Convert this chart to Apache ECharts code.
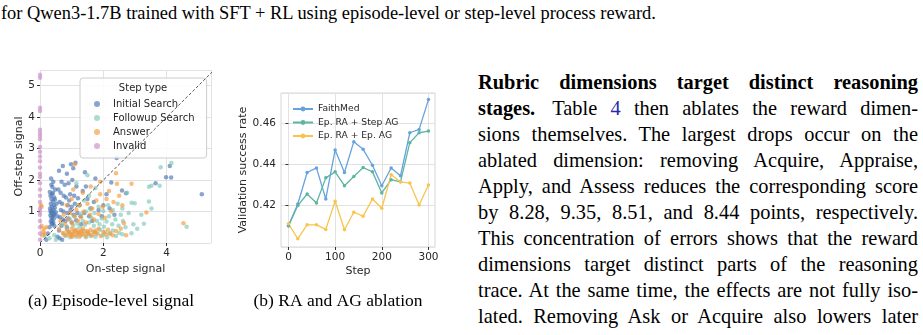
<!DOCTYPE html>
<html>
<head>
<meta charset="utf-8">
<script src="https://cdn.jsdelivr.net/npm/echarts@6/dist/echarts.min.js"></script>
<style>
  html, body { margin: 0; padding: 0; background: #fff; }
  #page { position: relative; width: 923px; height: 335px; overflow: hidden; font-family: 'Liberation Serif', 'Times New Roman', serif; color: #000; }
  #chart { position: absolute; left: 0; top: 0; width: 460px; height: 335px; }
  .top { position: absolute; left: 1px; top: 2px; font-size: 18.4px; line-height: 22px; white-space: nowrap; }
  .ln { position: absolute; left: 478px; width: 440px; font-size: 20.4px; line-height: 22px; height: 22px; white-space: nowrap; }
  .ref { color: #2a2aa8; }
</style>
</head>
<body>
<div id="page">
  <div class="top">for Qwen3-1.7B trained with SFT + RL using episode-level or step-level process reward.</div>
  <div id="chart"></div>
  <div id="para"></div>
</div>
<script>
// ---- scatter: episode-level signal (on-step, off-step) ----
const initialSearch = [
  [0.35,2.05],[0.42,1.95],[0.38,1.55],[0.33,1.5],[0.45,1.45],[0.36,1.4],[0.41,1.32],[0.34,1.25],[0.44,1.2],[0.37,1.15],
  [0.32,1.1],[0.43,1.05],[0.39,1.0],[0.35,0.95],[0.46,0.92],[0.33,0.88],[0.4,0.85],[0.36,0.8],[0.44,0.78],[0.38,0.72],
  [0.34,0.68],[0.42,0.65],[0.37,0.6],[0.45,0.55],[0.31,1.62],[0.48,1.7],[0.39,1.78],[0.3,0.5],[0.47,1.12],[0.5,0.98],
  [0.6,2.3],[0.72,2.45],[0.85,2.2],[0.98,2.5],[1.12,2.55],[1.05,2.38],[0.68,1.95],[0.78,1.85],[0.9,1.9],[1.02,2.0],
  [1.15,1.8],[0.65,1.6],[0.75,1.5],[0.82,1.45],[0.95,1.55],[1.08,1.5],[1.2,1.42],[0.62,1.3],[0.7,1.25],[0.88,1.2],
  [0.92,1.35],[1.0,1.15],[1.1,1.25],[1.25,1.2],[0.66,1.05],[0.74,1.0],[0.86,0.95],[0.96,1.05],[1.06,0.9],[1.18,0.95],
  [0.63,0.82],[0.72,0.75],[0.8,0.7],[0.9,0.78],[1.0,0.65],[1.14,0.72],[1.28,0.85],[0.68,0.55],[0.85,0.5],[0.58,1.7],
  [0.6,0.4],[0.55,0.2],[0.7,0.1],[0.62,0.15],[1.35,1.65],[1.45,1.8],[1.5,1.4],[1.6,1.1],[1.7,1.3],[1.85,1.05],
  [2.0,1.2],[1.4,0.95],[1.55,0.85],[1.3,0.6],[1.65,0.7],[1.95,0.85],[2.1,1.55],[2.25,1.92],[2.2,1.1],[2.35,0.9],
  [2.59,1.67],[2.72,1.58],[2.42,2.7],[1.75,2.05],[1.42,2.25],[0.2,0.1],[0.25,0.3],
  [0.36,1.85],[0.41,1.6],[0.47,1.38],[0.33,1.02],[0.43,0.9],[0.39,0.62],[0.52,1.25],[0.55,0.85],
  [3.65,1.9],[3.98,2.09],[4.14,2.08],[4.1,2.45],[5.11,1.55]
];
const followupSearch = [
  [0.75,0.3],[0.82,0.22],[0.9,0.35],[0.95,0.18],[1.02,0.28],[1.1,0.4],[1.15,0.2],[1.22,0.32],[1.3,0.25],[1.38,0.38],
  [1.45,0.18],[1.52,0.3],[1.6,0.22],[1.68,0.35],[1.75,0.2],[1.82,0.3],[1.9,0.42],[1.98,0.25],[2.05,0.35],[2.12,0.18],
  [2.2,0.3],[2.3,0.4],[2.4,0.22],[2.5,0.32],[2.6,0.28],[1.05,0.55],[1.18,0.62],[1.25,0.5],[1.35,0.7],[1.42,0.58],
  [1.55,0.65],[1.62,0.8],[1.7,0.55],[1.8,0.7],[1.88,0.6],[1.95,0.78],[2.02,0.52],[2.1,0.68],[2.18,0.85],[2.28,0.6],
  [2.38,0.75],[2.48,0.55],[2.55,0.9],[2.62,0.7],[2.7,0.5],[1.3,0.92],[1.45,1.0],[1.58,1.1],[1.72,0.95],[1.85,1.15],
  [2.0,1.02],[2.15,1.2],[2.3,1.05],[2.45,1.25],[2.6,1.1],[1.2,1.2],[1.4,1.35],[1.55,1.5],[1.5,2.15],[1.15,1.9],
  [1.75,1.75],[0.85,0.45],[0.7,0.6],[0.95,0.75],[1.08,0.85],[0.3,0.15],[0.45,0.25],[0.5,0.1],[0.15,0.22],
  [2.89,1.28],[2.99,1.26],[3.44,1.32],[3.52,1.1],[3.44,1.79],[3.52,1.82],[3.78,1.82],[3.81,2.41],[4.15,2.54],
  [3.28,0.61],[3.07,0.45],[2.89,0.31],[4.63,0.52],[2.95,0.6],[3.2,0.9],[2.8,0.95],[2.75,1.6]
];
const answer = [
  [0.72,0.32],[0.78,0.25],[0.85,0.4],[0.88,0.28],[0.92,0.35],[0.98,0.22],[1.0,0.45],[1.05,0.3],[1.08,0.38],[1.12,0.25],
  [1.15,0.42],[1.2,0.3],[1.25,0.2],[1.28,0.36],[1.32,0.28],[1.36,0.45],[1.4,0.3],[1.44,0.22],[1.48,0.38],[1.55,0.28],
  [1.6,0.42],[1.65,0.25],[1.72,0.35],[1.78,0.3],[1.85,0.45],[1.92,0.22],[2.0,0.35],[2.08,0.28],[2.15,0.42],[2.22,0.3],
  [2.3,0.25],[2.4,0.38],[2.55,0.45],[2.72,0.25],[2.65,0.63],[0.8,0.6],[0.9,0.75],[0.95,0.95],[1.02,0.62],[1.1,0.85],
  [1.15,1.05],[1.2,0.7],[1.25,1.2],[1.3,0.82],[1.38,1.0],[1.45,0.65],[1.5,1.25],[1.58,0.9],[1.65,1.1],[1.7,0.75],
  [1.78,1.35],[1.85,0.92],[1.9,1.55],[1.98,1.15],[2.05,0.8],[2.1,1.4],[2.18,1.65],[2.25,1.0],[2.32,1.3],[2.4,2.22],
  [2.43,1.88],[2.89,1.88],[2.5,1.5],[2.6,1.2],[3.36,0.97],[4.53,0.63],[1.1,2.5],[1.05,1.7],[1.35,1.6],[1.6,1.8],
  [1.9,1.95],[1.0,1.4],[0.85,1.2],[0.75,0.9],[0.65,0.7],[0.6,0.45],[0.05,0.55],[0.1,0.36],[0.08,0.25],[0.12,0.45],
  [0.15,0.3],[0.05,1.15],[0.03,1.2],[0.2,0.5],[0.95,0.32],[1.18,0.35],[1.52,0.35],[1.75,0.4],[1.02,0.2],[1.3,0.4]
];
const invalid = [
  [0,0.1],[0,0.3],[0,0.5],[0,0.7],[0,0.9],[0,1.0],[0,1.1],[0,1.3],[0,1.5],[0,1.7],[0,1.9],[0,2.1],[0,2.2],
  [0,2.4],[0,2.6],[0,2.75],[0,2.9],[0,3.05],[0,3.3],[0,3.4],[0,3.5],[0,3.6],[0,4.2],[0,4.3],[0,5.25],[0,5.35]
];
const stepTypes = ['Initial Search', 'Followup Search', 'Answer', 'Invalid'];
const stepColors = ['#4a74b2', '#80c8ba', '#f59a3c', '#c98cc4'];

// ---- line: RA and AG ablation ----
const steps = [0, 20, 40, 60, 80, 100, 120, 140, 160, 180, 200, 220, 240, 260, 280, 300];
const faithMed = [0.4104, 0.4208, 0.436, 0.4382, 0.4232, 0.4469, 0.436, 0.4509, 0.4472, 0.4395, 0.4296, 0.4382, 0.4344, 0.4552, 0.4568, 0.4712];
const epRaStepAg = [0.4101, 0.42, 0.4256, 0.4213, 0.4334, 0.4363, 0.4296, 0.4341, 0.4384, 0.4363, 0.4261, 0.4325, 0.4315, 0.4504, 0.4552, 0.456];
const epRaEpAg = [0.4112, 0.404, 0.4107, 0.4107, 0.4085, 0.4221, 0.4083, 0.4168, 0.4149, 0.4232, 0.4187, 0.4349, 0.4315, 0.4309, 0.4203, 0.43];
const lineNames = ['FaithMed', 'Ep. RA + Step AG', 'Ep. RA + Ep. AG'];
const lineColors = ['#66a3de', '#5db5a2', '#f8c44c'];
const stepTicks = [0, 100, 200, 300];

// ---- text on the right (one justified line each) ----
const paraLines = [
  '<b>Rubric dimensions target distinct reasoning</b>',
  '<b>stages.</b><span style="display:inline-block;width:17px"></span>Table <span class="ref">4</span> then ablates the reward dimen-',
  'sions themselves. The largest drops occur on the',
  'ablated dimension: removing Acquire, Appraise,',
  'Apply, and Assess reduces the corresponding score',
  'by 8.28, 9.35, 8.51, and 8.44 points, respectively.',
  'This concentration of errors shows that the reward',
  'dimensions target distinct parts of the reasoning',
  'trace. At the same time, the effects are not fully iso-',
  'lated. Removing Ask or Acquire also lowers later'
];
const para = document.getElementById('para');
paraLines.forEach((t, i) => {
  const d = document.createElement('div');
  d.className = 'ln';
  d.style.top = (71 + i * 26) + 'px';
  const s = document.createElement('span');
  s.innerHTML = t;
  d.appendChild(s);
  para.appendChild(d);
  // stretch or squeeze the spaces so that every line fills the column, as TeX does
  const w = s.getBoundingClientRect().width;
  const n = (s.textContent.match(/ /g) || []).length;
  if (n) s.style.wordSpacing = ((440 - w) / n).toFixed(2) + 'px';
});

const tickFont = { fontFamily: 'DejaVu Sans', fontSize: 10.5, color: '#262626' };
const nameFont = { fontFamily: 'DejaVu Sans', fontSize: 11, color: '#262626' };
const gridLine = { show: true, lineStyle: { color: '#e2e2e2', width: 1 } };

const chart = echarts.init(document.getElementById('chart'));
chart.setOption({
  animation: false,
  graphic: [
    { type: 'text', x: 143, y: 88, z: 100, style: { text: 'Step type', align: 'center', verticalAlign: 'middle', font: '10px "DejaVu Sans"', fill: '#262626' } },
    { type: 'text', x: 111, y: 301, style: { text: '(a) Episode-level signal', align: 'center', verticalAlign: 'middle', font: '17.5px "Liberation Serif"', fill: '#000' } },
    { type: 'text', x: 338, y: 301, style: { text: '(b) RA and AG ablation', align: 'center', verticalAlign: 'middle', font: '17.5px "Liberation Serif"', fill: '#000' } }
  ],
  legend: [
    {
      data: stepTypes, left: 80, top: 78, orient: 'vertical', icon: 'circle',
      padding: [20, 12, 6, 14], borderColor: '#cccccc', borderWidth: 1, borderRadius: 3,
      backgroundColor: 'rgba(255,255,255,0.85)',
      itemWidth: 6, itemHeight: 6, itemGap: 2,
      textStyle: { fontFamily: 'DejaVu Sans', fontSize: 10, lineHeight: 12, color: '#262626', padding: [0, 0, 0, 8] }
    },
    {
      data: lineNames, left: 287, top: 98, orient: 'vertical',
      itemWidth: 20, itemHeight: 6, itemGap: 1.5,
      textStyle: { fontFamily: 'DejaVu Sans', fontSize: 9.2, lineHeight: 12, color: '#262626' }
    }
  ],
  grid: [
    { left: 40, top: 70, width: 171, height: 173 },
    { left: 281, top: 93, width: 154, height: 154, show: true, borderColor: '#d6d6d6', borderWidth: 1 }
  ],
  xAxis: [
    {
      type: 'value', gridIndex: 0, min: 0, max: 5.4, interval: 2,
      axisLine: { show: false }, axisTick: { show: true, length: 3, lineStyle: { color: '#333' } },
      axisLabel: Object.assign({ margin: 5, showMaxLabel: false }, tickFont),
      splitLine: gridLine,
      name: 'On-step signal', nameLocation: 'middle', nameGap: 19, nameTextStyle: nameFont
    },
    {
      type: 'value', gridIndex: 1, min: -16, max: 314, splitNumber: 3,
      axisLine: { show: false },
      axisTick: { show: true, length: 3, lineStyle: { color: '#333' }, customValues: stepTicks },
      axisLabel: Object.assign({ margin: 5, customValues: stepTicks }, tickFont),
      splitLine: gridLine,
      name: 'Step', nameLocation: 'middle', nameGap: 19, nameTextStyle: nameFont
    }
  ],
  yAxis: [
    {
      type: 'value', gridIndex: 0, min: 0, max: 5.5, interval: 1,
      axisLine: { show: false }, axisTick: { show: true, length: 3, lineStyle: { color: '#333' } },
      axisLabel: Object.assign({ margin: 5, showMinLabel: false, showMaxLabel: false }, tickFont),
      splitLine: gridLine,
      name: 'Off-step signal', nameLocation: 'middle', nameGap: 12, nameTextStyle: nameFont
    },
    {
      type: 'value', gridIndex: 1, min: 0.40, max: 0.4744, interval: 0.02,
      axisLine: { show: false }, axisTick: { show: true, length: 3, lineStyle: { color: '#333' } },
      axisLabel: Object.assign({ margin: 5, showMinLabel: false, showMaxLabel: false, formatter: v => v.toFixed(2) }, tickFont),
      splitLine: gridLine,
      name: 'Validation success rate', nameLocation: 'middle', nameGap: 31, nameTextStyle: nameFont
    }
  ],
  series: [
    ...[initialSearch, followupSearch, answer, invalid].map((d, i) => ({
      name: stepTypes[i], type: 'scatter', xAxisIndex: 0, yAxisIndex: 0,
      data: d, symbolSize: 4.5, itemStyle: { color: stepColors[i], opacity: 0.65 }
    })),
    {
      name: 'diag', type: 'line', xAxisIndex: 0, yAxisIndex: 0, data: [[0, 0], [5.6, 5.6]],
      symbol: 'none', lineStyle: { color: '#444', width: 0.9, type: [3, 2] }, z: 5, silent: true
    },
    ...[faithMed, epRaStepAg, epRaEpAg].map((d, i) => ({
      name: lineNames[i], type: 'line', xAxisIndex: 1, yAxisIndex: 1,
      data: steps.map((s, j) => [s, d[j]]),
      symbol: 'circle', symbolSize: 3.5, showSymbol: true,
      itemStyle: { color: lineColors[i] }, lineStyle: { color: lineColors[i], width: 1.3 }
    }))
  ]
});
</script>
</body>
</html>
